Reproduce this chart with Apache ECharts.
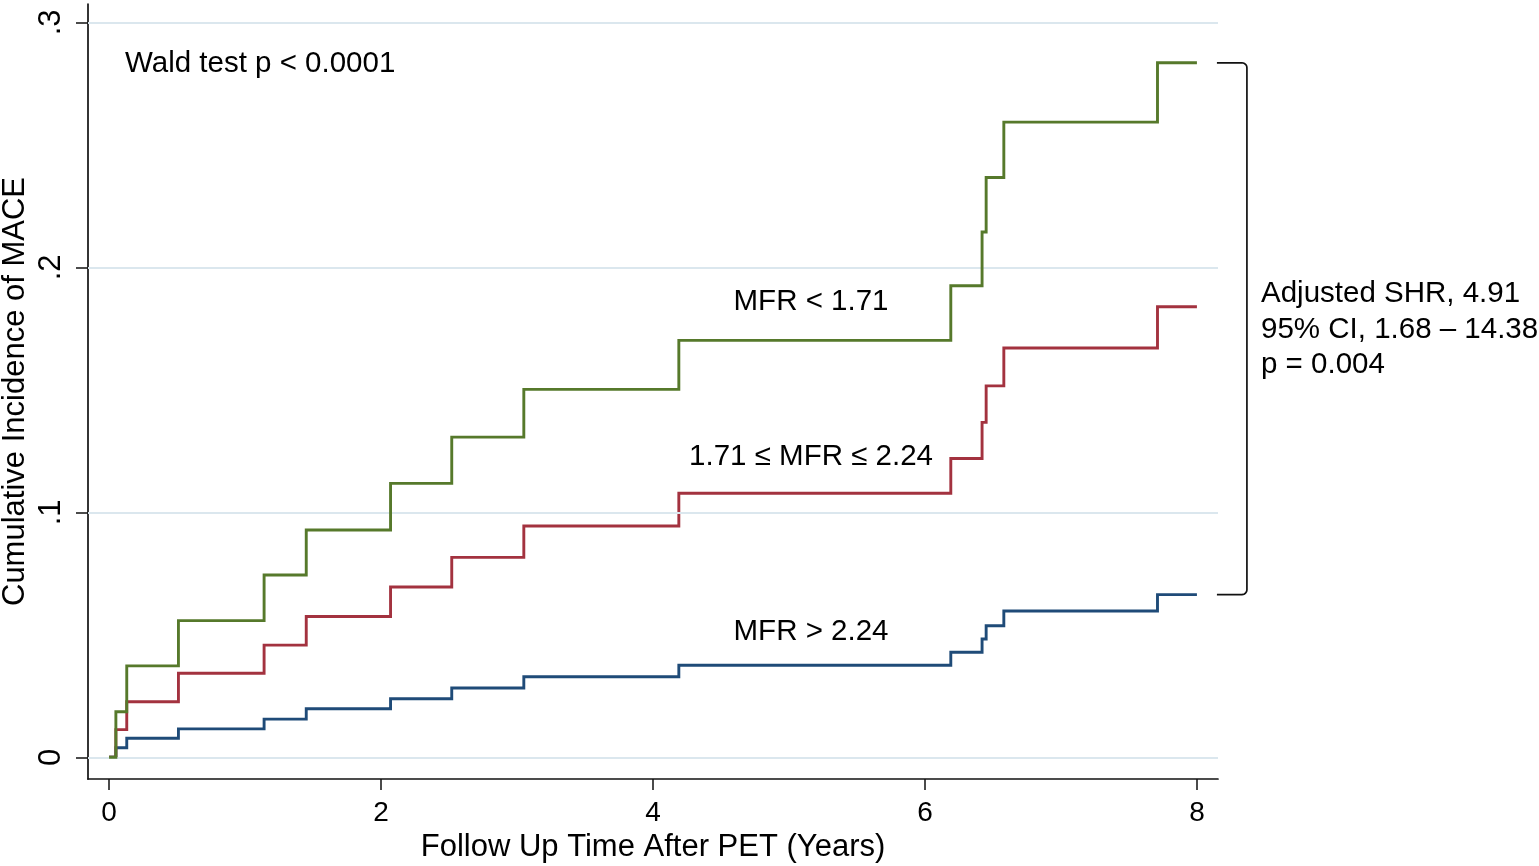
<!DOCTYPE html>
<html>
<head>
<meta charset="utf-8">
<script src="https://cdn.jsdelivr.net/npm/echarts/dist/echarts.min.js"></script>
<style>
html,body{margin:0;padding:0;background:#fff;}
#c{width:1539px;height:866px;}
</style>
</head>
<body>
<div id="c"></div>
<script>
// ---- data ----
const times   = [0, 0.05, 0.13, 0.51, 1.14, 1.45, 2.07, 2.52, 3.05, 4.19, 6.19, 6.42, 6.45, 6.58, 7.71, 8.00];
const lowMFR  = [0, 0.0186, 0.0373, 0.0558, 0.0744, 0.0928, 0.1118, 0.1307, 0.1502, 0.1702, 0.1925, 0.2144, 0.2367, 0.2593, 0.2835, 0.2835];
const midMFR  = [0, 0.0113, 0.0227, 0.0343, 0.0458, 0.0575, 0.0695, 0.0816, 0.0944, 0.1078, 0.1220, 0.1367, 0.1516, 0.1671, 0.1839, 0.1839];
const highMFR = [0, 0.0039, 0.0078, 0.0116, 0.0156, 0.0198, 0.0239, 0.0283, 0.0329, 0.0376, 0.0429, 0.0483, 0.0537, 0.0597, 0.0664, 0.0664];
const seriesNames = ['MFR > 2.24', '1.71 ≤ MFR ≤ 2.24', 'MFR < 1.71'];
const xTicks = [0, 2, 4, 6, 8];
const yTicks = [0, 0.1, 0.2, 0.3];
const yTickLabels = ['0', '.1', '.2', '.3'];
const xTitle = 'Follow Up Time After PET (Years)';
const yTitle = 'Cumulative Incidence of MACE';
const waldText = 'Wald test p < 0.0001';
const shrLines = ['Adjusted SHR, 4.91', '95% CI, 1.68 – 14.38', 'p = 0.004'];

const FONT = '"Liberation Sans", Arial, Helvetica, sans-serif';
const COLORS = { high: '#1f4b78', mid: '#a3323f', low: '#56792b' };

const chart = echarts.init(document.getElementById('c'), null, { renderer: 'canvas' });

function pairs(arr) { return times.map((t, i) => [t, arr[i]]); }

function lineSeries(name, arr, color, z) {
  return {
    name: name, type: 'line', step: 'end', data: pairs(arr),
    showSymbol: false, symbol: 'none', z: z, silent: true,
    lineStyle: { color: color, width: 2.9, cap: 'butt', join: 'miter' },
    itemStyle: { color: color }
  };
}

const option = {
  animation: false,
  backgroundColor: '#ffffff',
  grid: { left: 88, right: 321, top: 4, bottom: 87, containLabel: false, outerBoundsMode: 'none' },
  xAxis: {
    type: 'value', min: -0.155, max: 8.155,
    axisLine: { onZero: false, lineStyle: { color: '#111', width: 1.7 } },
    axisTick: { customValues: xTicks, length: 11, lineStyle: { color: '#111', width: 1.5 } },
    axisLabel: { customValues: xTicks, margin: 20, fontSize: 28, color: '#000', fontFamily: FONT },
    splitLine: { show: false },
    name: xTitle, nameLocation: 'middle', nameGap: 53, nameMoveOverlap: false,
    nameTextStyle: { fontSize: 31, color: '#000', fontFamily: FONT }
  },
  yAxis: {
    type: 'value', min: -0.00886, max: 0.3075,
    axisLine: { onZero: false, lineStyle: { color: '#111', width: 1.7 } },
    axisTick: { customValues: yTicks, length: 12, lineStyle: { color: '#111', width: 1.5 } },
    axisLabel: {
      customValues: yTicks, rotate: 90, margin: 21, fontSize: 31, color: '#000', fontFamily: FONT,
      formatter: function (v) {
        let best = 0;
        yTicks.forEach((t, i) => { if (Math.abs(t - v) < Math.abs(yTicks[best] - v)) best = i; });
        return yTickLabels[best];
      }
    },
    splitLine: { show: false },
    name: yTitle, nameLocation: 'middle', nameGap: 57, nameRotate: 90, nameMoveOverlap: false,
    nameTextStyle: { fontSize: 31, color: '#000', fontFamily: FONT }
  },
  series: [
    {
      name: 'grid', type: 'line', data: [], z: 1, silent: true,
      markLine: {
        silent: true, symbol: ['none', 'none'], label: { show: false }, animation: false,
        lineStyle: { color: '#dbe7ee', width: 1.8, type: 'solid' },
        data: yTicks.map(v => ({ yAxis: v }))
      }
    },
    lineSeries(seriesNames[0], highMFR, COLORS.high, 3),
    lineSeries(seriesNames[1], midMFR, COLORS.mid, 4),
    lineSeries(seriesNames[2], lowMFR, COLORS.low, 5)
  ]
};
chart.setOption(option);

// ---- annotations ----
const last = times.length - 1;
const pTop = chart.convertToPixel({ gridIndex: 0 }, [times[last], lowMFR[last]]);
const pBot = chart.convertToPixel({ gridIndex: 0 }, [times[last], highMFR[last]]);
const bx0 = pTop[0] + 20, bx1 = pTop[0] + 50, r = 5;
const yT = pTop[1], yB = pBot[1];
const bracketPts = [[bx0, yT], [bx1 - r, yT]];
for (let k = 1; k <= 6; k++) {
  const a = (Math.PI / 2) * (k / 6);
  bracketPts.push([bx1 - r + r * Math.sin(a), yT + r - r * Math.cos(a)]);
}
for (let k = 0; k <= 6; k++) {
  const a = (Math.PI / 2) * (k / 6);
  bracketPts.push([bx1 - r + r * Math.cos(a), yB - r + r * Math.sin(a)]);
}
bracketPts.push([bx0, yB]);

function txt(x, y, s, align) {
  return {
    type: 'text', x: x, y: y, silent: true, z: 10,
    style: { text: s, fill: '#000', font: '29.5px ' + FONT, align: align || 'left', verticalAlign: 'middle' }
  };
}

chart.setOption({
  graphic: [
    txt(125, 64, waldText),
    txt(811, 302, seriesNames[2], 'center'),
    txt(811, 456.5, seriesNames[1], 'center'),
    txt(811, 632, seriesNames[0], 'center'),
    txt(1261, 294, shrLines[0]),
    txt(1261, 329.5, shrLines[1]),
    txt(1261, 365, shrLines[2]),
    {
      type: 'polyline', silent: true, z: 10,
      shape: { points: bracketPts },
      style: { fill: null, stroke: '#111', lineWidth: 1.7 }
    }
  ]
});
</script>
</body>
</html>
